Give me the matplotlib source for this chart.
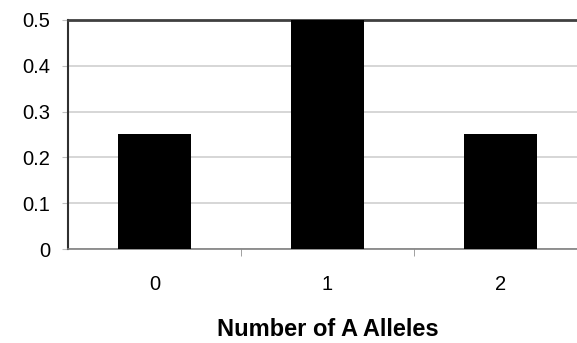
import matplotlib.pyplot as plt
import numpy as np

# Data: probability of number of A alleles
categories = ['0', '1', '2']
values = [0.25, 0.5, 0.25]
y_ticks = [0, 0.1, 0.2, 0.3, 0.4, 0.5]
y_labels = ['0', '0.1', '0.2', '0.3', '0.4', '0.5']

plt.rcParams['font.family'] = ['Liberation Sans', 'DejaVu Sans']

fig = plt.figure(figsize=(5.77, 3.43), dpi=100)
ax = fig.add_axes([0.118, 0.274, 0.899, 0.668])

x = np.arange(len(categories))
ax.bar(x, values, width=0.42, color='black', zorder=3)

ax.set_xlim(-0.5, 2.5)
ax.set_ylim(0, 0.5)

# Light horizontal gridlines, dark top line
ax.set_yticks(y_ticks)
ax.set_yticklabels(y_labels, fontsize=14.5)
ax.yaxis.grid(True, color='#d0d0d0', linewidth=1.2, zorder=0)
ax.tick_params(axis='y', length=4, color='#c0c0c0', pad=9)

# Category labels centred, tick marks at category boundaries
ax.set_xticks(x)
ax.set_xticklabels(categories, fontsize=14.5)
ax.tick_params(axis='x', length=0, pad=19)
ax.set_xticks([0.5, 1.5], minor=True)
ax.tick_params(axis='x', which='minor', length=5, color='#909090', direction='out')

ax.spines['top'].set_color('#404040')
ax.spines['top'].set_linewidth(2)
ax.spines['left'].set_color('#303030')
ax.spines['left'].set_linewidth(1.5)
ax.spines['bottom'].set_color('#808080')
ax.spines['bottom'].set_linewidth(1.2)
ax.spines['right'].set_visible(False)

ax.set_xlabel('Number of A Alleles', fontsize=17, fontweight='bold', labelpad=17)

plt.savefig('out.png', dpi=100)
